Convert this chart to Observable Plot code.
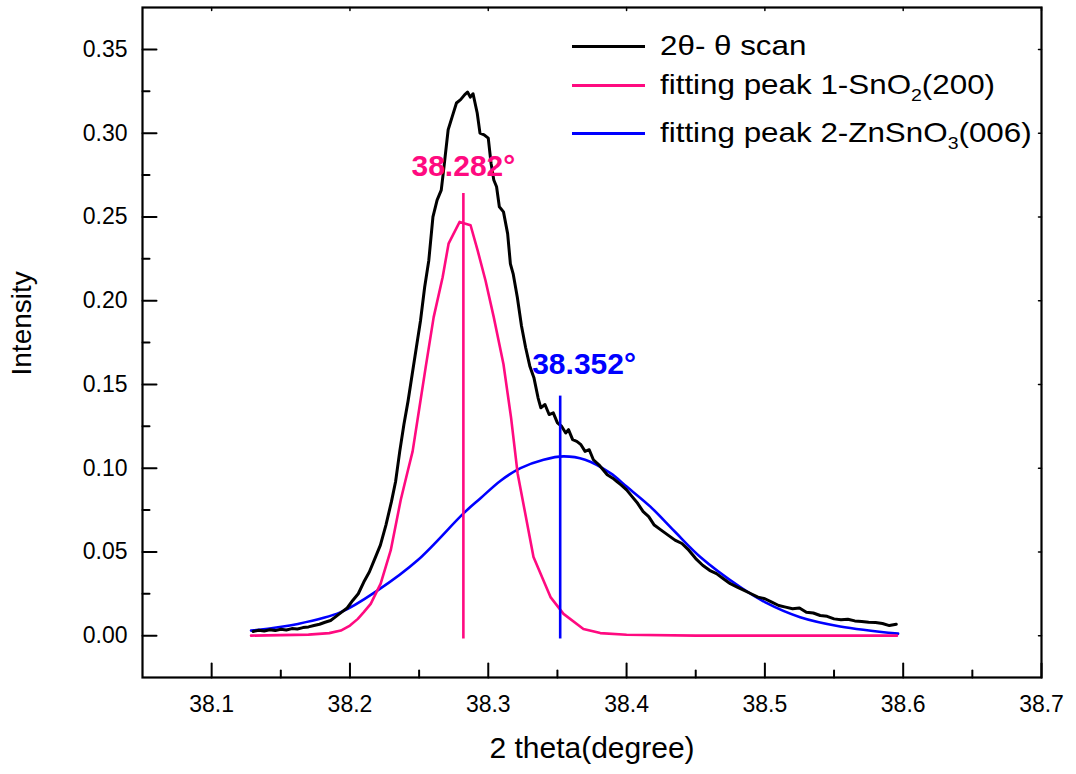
<!DOCTYPE html>
<html><head><meta charset="utf-8">
<script src="https://cdn.jsdelivr.net/npm/d3@7"></script>
<script src="https://cdn.jsdelivr.net/npm/@observablehq/plot@0.6"></script>
<style>
body{margin:0;background:#fff;}
#wrap{position:relative;width:1076px;height:774px;font-family:"Liberation Sans",Arial,sans-serif;}
.row{position:absolute;left:572px;height:40px;display:flex;align-items:center;font-size:28px;color:#000;white-space:nowrap;}
.sw{display:inline-block;width:73px;height:3px;margin-right:15px;flex:none;}
.lbl{display:inline-block;transform:scaleX(1.12);transform-origin:left center;}
.row sub{font-size:0.62em;vertical-align:-0.4em;line-height:0;}
</style></head>
<body><div id="wrap"></div>
<script>
// ---- data ----
const scanTheta = [38.130,38.134,38.138,38.142,38.146,38.150,38.154,38.158,38.162,38.166,38.170,38.174,38.178,38.182,38.186,38.190,38.194,38.198,38.202,38.206,38.210,38.214,38.218,38.222,38.226,38.230,38.233,38.236,38.239,38.242,38.245,38.248,38.251,38.254,38.257,38.260,38.263,38.266,38.268,38.271,38.274,38.277,38.280,38.283,38.285,38.287,38.289,38.292,38.294,38.297,38.300,38.302,38.304,38.306,38.308,38.311,38.314,38.316,38.318,38.321,38.324,38.327,38.330,38.333,38.336,38.338,38.341,38.344,38.347,38.350,38.353,38.356,38.358,38.361,38.364,38.367,38.370,38.373,38.376,38.380,38.383,38.386,38.390,38.393,38.396,38.400,38.404,38.408,38.412,38.416,38.420,38.425,38.430,38.435,38.440,38.445,38.450,38.455,38.460,38.465,38.470,38.475,38.480,38.485,38.490,38.495,38.500,38.505,38.510,38.515,38.520,38.525,38.530,38.535,38.540,38.545,38.550,38.555,38.560,38.565,38.570,38.575,38.580,38.585,38.590,38.595];
const scanIntensity = [0.0025,0.0032,0.0028,0.0035,0.0030,0.0038,0.0034,0.0042,0.0040,0.0048,0.0052,0.0060,0.0068,0.0080,0.0090,0.0115,0.0140,0.0165,0.0210,0.0250,0.0320,0.0380,0.0460,0.0540,0.0660,0.0800,0.0920,0.1100,0.1260,0.1400,0.1560,0.1720,0.1880,0.2080,0.2240,0.2500,0.2600,0.2660,0.2800,0.3020,0.3100,0.3180,0.3200,0.3230,0.3245,0.3215,0.3235,0.3120,0.3000,0.2990,0.2970,0.2820,0.2720,0.2680,0.2560,0.2530,0.2400,0.2220,0.2160,0.2020,0.1850,0.1720,0.1610,0.1540,0.1420,0.1360,0.1380,0.1320,0.1330,0.1270,0.1250,0.1210,0.1230,0.1170,0.1160,0.1140,0.1100,0.1110,0.1050,0.1020,0.0990,0.0960,0.0940,0.0920,0.0900,0.0870,0.0830,0.0790,0.0740,0.0710,0.0660,0.0630,0.0600,0.0570,0.0550,0.0510,0.0460,0.0420,0.0390,0.0370,0.0340,0.0310,0.0290,0.0270,0.0250,0.0230,0.0220,0.0200,0.0180,0.0170,0.0160,0.0165,0.0140,0.0135,0.0120,0.0115,0.0100,0.0095,0.0098,0.0088,0.0085,0.0080,0.0078,0.0072,0.0060,0.0068];

const peak1Theta = [38.1285,38.150,38.170,38.185,38.1934,38.200,38.2057,38.210,38.215,38.2222,38.2295,38.2367,38.2417,38.2453,38.250,38.2547,38.2605,38.267,38.2713,38.2793,38.2872,38.2923,38.298,38.304,38.311,38.3165,38.3212,38.3327,38.345,38.3544,38.3688,38.381,38.400,38.450,38.500,38.550,38.5955];
const peak1Intensity = [0,0.0003,0.0006,0.0015,0.003,0.006,0.010,0.014,0.019,0.031,0.051,0.081,0.098,0.110,0.135,0.160,0.190,0.214,0.234,0.247,0.245,0.230,0.212,0.190,0.162,0.130,0.097,0.047,0.023,0.013,0.004,0.0015,0.0005,0,0,0,0];

const peak2Theta = [38.1285,38.1624,38.1934,38.220,38.2489,38.2821,38.2944,38.3089,38.3233,38.340,38.3544,38.370,38.3883,38.400,38.4172,38.435,38.4533,38.4822,38.500,38.5255,38.5544,38.5963];
const peak2Intensity = [0.003,0.007,0.014,0.027,0.045,0.073,0.082,0.0925,0.100,0.105,0.107,0.105,0.097,0.089,0.077,0.062,0.047,0.029,0.020,0.011,0.0055,0.0012];

const peakPositions = [38.282, 38.352];
const peakLabels = ["38.282°", "38.352°"];
const peakLineTop = [0.264, 0.143];
const peakLabelY = [0.2746, 0.156];

const xMajor = [38.1,38.2,38.3,38.4,38.5,38.6,38.7];
const xMinor = [38.15,38.25,38.35,38.45,38.55,38.65];
const yMajor = [0,0.05,0.10,0.15,0.20,0.25,0.30,0.35];
const yMinor = [0.025,0.075,0.125,0.175,0.225,0.275,0.325];

const seriesNames = ["2θ- θ scan", "fitting peak 1-SnO<sub>2</sub>(200)", "fitting peak 2-ZnSnO<sub>3</sub>(006)"];
const seriesColors = ["#000000", "#ff0a80", "#0000ff"];

// ---- chart ----
const pink = seriesColors[1], blue = seriesColors[2];
// inward tick: a plain line drawn along the vector direction
const tickShape = {draw(context, l) { context.moveTo(0, 0); context.lineTo(0, -l); }};
const inTick = (data, side, len, sw) => Plot.vector(data, {
  ...(side === "bottom" || side === "top" ? {x: d => d} : {y: d => d}),
  frameAnchor: side, anchor: "start", length: len, shape: tickShape,
  rotate: side === "bottom" ? 0 : side === "left" ? 90 : side === "top" ? 180 : 270,
  stroke: "black", strokeWidth: sw
});

const chart = Plot.plot({
  width: 1076, height: 774,
  marginLeft: 142, marginRight: 35, marginTop: 7, marginBottom: 97,
  x: {domain: [38.05, 38.7]},
  y: {domain: [-0.025, 0.375]},
  style: {fontFamily: "'Liberation Sans', Arial, sans-serif", background: "white", color: "black"},
  marks: [
    inTick(xMajor, "bottom", 14, 2),
    inTick(xMinor, "bottom", 7, 2),
    inTick(xMajor, "top", 3, 1.5),
    inTick(yMajor, "left", 14, 2),
    inTick(yMinor, "left", 7, 2),
    inTick(yMajor, "right", 3, 1.5),
    Plot.axisX(xMajor, {anchor: "bottom", tickSize: 0, tickPadding: 18, fontSize: 23, tickFormat: d => d.toFixed(1), label: null}),
    Plot.axisY(yMajor, {anchor: "left", tickSize: 0, tickPadding: 15, fontSize: 23, tickFormat: d => d.toFixed(2), label: null}),
    Plot.frame({stroke: "black", strokeWidth: 2.2}),
    Plot.line(peak2Theta, {x: peak2Theta, y: peak2Intensity, stroke: blue, strokeWidth: 2.6, curve: "catmull-rom"}),
    Plot.line(peak1Theta, {x: peak1Theta, y: peak1Intensity, stroke: pink, strokeWidth: 2.6}),
    Plot.line(scanTheta, {x: scanTheta, y: scanIntensity, stroke: "black", strokeWidth: 3, strokeLinejoin: "round"}),
    Plot.ruleX([peakPositions[0]], {x: d => d, y1: -0.002, y2: peakLineTop[0], stroke: pink, strokeWidth: 2.6}),
    Plot.ruleX([peakPositions[1]], {x: d => d, y1: -0.002, y2: peakLineTop[1], stroke: blue, strokeWidth: 2.6}),
    Plot.text([peakLabels[0]], {x: [peakPositions[0]], y: [peakLabelY[0]], text: d => d, fill: pink, fontSize: 30, fontWeight: "bold", textAnchor: "middle", lineAnchor: "bottom"}),
    Plot.text([peakLabels[1]], {x: [peakPositions[1]], y: [peakLabelY[1]], text: d => d, fill: blue, fontSize: 30, fontWeight: "bold", textAnchor: "start", dx: -28, lineAnchor: "bottom"}),
    Plot.text(["2 theta(degree)"], {frameAnchor: "bottom", dy: 71, fontSize: 30, lineAnchor: "middle"}),
    Plot.text(["Intensity"], {frameAnchor: "left", rotate: -90, dx: -120, dy: 33, fontSize: 28, lineAnchor: "middle"})
  ]
});
const wrap = document.getElementById("wrap");
wrap.appendChild(chart);

// legend (inside plot area, top right)
const rowCenters = [46, 85, 133];
seriesNames.forEach((name, i) => {
  const row = document.createElement("div");
  row.className = "row";
  row.style.top = (rowCenters[i] - 20) + "px";
  row.innerHTML = `<span class="sw" style="background:${seriesColors[i]}"></span><span class="lbl">${name}</span>`;
  wrap.appendChild(row);
});
</script></body></html>
